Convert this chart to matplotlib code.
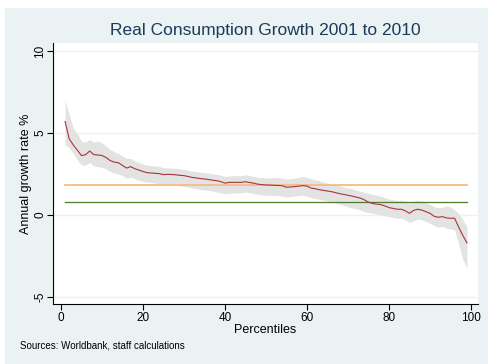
import matplotlib

matplotlib.use("Agg")
import matplotlib.pyplot as plt
from matplotlib.patches import Rectangle

plt.rcParams["font.family"] = ["Liberation Sans", "DejaVu Sans"]

# growth incidence curve, percentiles 1..99
percentiles = list(range(1, 100))
growth = [
    5.70, 4.65, 4.27, 3.95, 3.62, 3.68, 3.90, 3.68, 3.66, 3.63,
    3.50, 3.32, 3.22, 3.19, 3.02, 2.86, 2.95, 2.82, 2.74, 2.65,
    2.58, 2.56, 2.54, 2.52, 2.46, 2.48, 2.47, 2.45, 2.42, 2.40,
    2.35, 2.29, 2.26, 2.22, 2.20, 2.16, 2.12, 2.09, 2.03, 1.94,
    1.99, 1.99, 1.99, 1.99, 2.03, 1.98, 1.94, 1.88, 1.85, 1.83,
    1.82, 1.81, 1.80, 1.78, 1.69, 1.71, 1.73, 1.76, 1.79, 1.76,
    1.64, 1.60, 1.54, 1.50, 1.46, 1.42, 1.36, 1.30, 1.25, 1.20,
    1.15, 1.09, 1.03, 0.92, 0.78, 0.70, 0.66, 0.63, 0.55, 0.45,
    0.40, 0.35, 0.35, 0.25, 0.10, 0.28, 0.35, 0.30, 0.20, 0.10,
    -0.08, -0.14, -0.10, -0.18, -0.20, -0.20, -0.75, -1.25, -1.70,
]
ci_upper = [
    7.00, 6.10, 5.30, 4.95, 4.50, 4.45, 4.60, 4.45, 4.50, 4.40,
    4.20, 4.00, 3.85, 3.75, 3.60, 3.45, 3.45, 3.30, 3.20, 3.10,
    3.05, 3.00, 2.98, 2.95, 2.88, 2.88, 2.85, 2.85, 2.82, 2.78,
    2.72, 2.68, 2.65, 2.60, 2.58, 2.55, 2.50, 2.48, 2.42, 2.35,
    2.38, 2.40, 2.40, 2.40, 2.45, 2.40, 2.35, 2.30, 2.28, 2.25,
    2.27, 2.30, 2.28, 2.25, 2.20, 2.22, 2.25, 2.30, 2.35, 2.30,
    2.20, 2.15, 2.10, 2.00, 1.95, 1.90, 1.85, 1.78, 1.70, 1.65,
    1.60, 1.50, 1.45, 1.38, 1.32, 1.25, 1.20, 1.15, 1.05, 0.98,
    0.92, 0.90, 0.90, 0.85, 0.70, 0.85, 0.90, 0.85, 0.75, 0.65,
    0.50, 0.45, 0.45, 0.55, 0.50, 0.30, 0.10, -0.30, -0.70,
]
ci_lower = [
    4.30, 4.10, 3.75, 3.35, 3.05, 3.05, 3.20, 3.00, 2.95, 2.90,
    2.80, 2.65, 2.55, 2.50, 2.40, 2.25, 2.30, 2.20, 2.10, 2.05,
    2.00, 1.98, 1.95, 1.90, 1.85, 1.85, 1.82, 1.80, 1.78, 1.75,
    1.70, 1.65, 1.60, 1.55, 1.52, 1.50, 1.45, 1.40, 1.35, 1.30,
    1.32, 1.35, 1.35, 1.35, 1.40, 1.35, 1.30, 1.25, 1.22, 1.20,
    1.20, 1.20, 1.18, 1.15, 1.10, 1.12, 1.15, 1.18, 1.20, 1.15,
    1.05, 1.00, 0.95, 0.90, 0.85, 0.80, 0.72, 0.65, 0.58, 0.50,
    0.42, 0.38, 0.30, 0.20, 0.15, 0.10, 0.05, 0.02, -0.05, -0.10,
    -0.15, -0.20, -0.20, -0.30, -0.45, -0.35, -0.25, -0.30, -0.40, -0.50,
    -0.65, -0.75, -0.70, -0.80, -0.85, -0.90, -1.80, -2.70, -3.25,
]
growth_in_mean = 1.83
mean_of_growth = 0.79

yticks = [-5, 0, 5, 10]
xticks = [0, 20, 40, 60, 80, 100]

BG = "#eaf2f3"
W, H = 489, 364

fig = plt.figure(figsize=(W / 100, H / 100), dpi=100)
fig.patches.append(Rectangle((5 / W, 0), 1, 1 - 8 / H, transform=fig.transFigure,
                             facecolor=BG, edgecolor="none", zorder=-10))

ax = fig.add_axes([53 / W, (H - 304) / H, (478 - 53) / W, (304 - 43) / H])
ax.set_facecolor("white")

ax.fill_between(percentiles, ci_lower, ci_upper, color="#e3e3e3", linewidth=0, zorder=2)
ax.plot(percentiles, growth, color="#a8343c", linewidth=0.8, zorder=4)
ax.plot([percentiles[0], percentiles[-1]], [growth_in_mean] * 2,
        color="#f4bd86", linewidth=1.3, zorder=3)
ax.plot([percentiles[0], percentiles[-1]], [mean_of_growth] * 2,
        color="#4f7d2c", linewidth=0.9, zorder=3)

ax.set_xlim(-1.95, 101.7)
ax.set_ylim(-5.43, 10.49)
ax.set_yticks(yticks)
ax.set_xticks(xticks)
ax.set_yticklabels([str(t) for t in yticks], rotation=90, va="center", fontsize=8.5)
ax.set_xticklabels([str(t) for t in xticks], fontsize=8.5)
ax.grid(axis="y", color=BG, linewidth=1.0, zorder=1)
ax.set_axisbelow(True)

for side in ("top", "right"):
    ax.spines[side].set_visible(False)
for side in ("left", "bottom"):
    ax.spines[side].set_color("black")
    ax.spines[side].set_linewidth(0.8)
ax.tick_params(direction="out", length=4, width=0.8, pad=2)
ax.tick_params(axis="y", pad=1)

ax.set_xlabel("Percentiles", fontsize=9, labelpad=0)
ax.set_ylabel("Annual growth rate %", fontsize=9)
ax.yaxis.set_label_coords(-0.05, 0.5)

fig.text(265 / W, 1 - 30 / H, "Real Consumption Growth 2001 to 2010",
         ha="center", va="center", fontsize=12.5, color="#1c3a5a")
fig.text(20 / W, 1 - 346 / H, "Sources: Worldbank, staff calculations",
         ha="left", va="center", fontsize=7)

fig.savefig("out.png", dpi=100, facecolor="white")
